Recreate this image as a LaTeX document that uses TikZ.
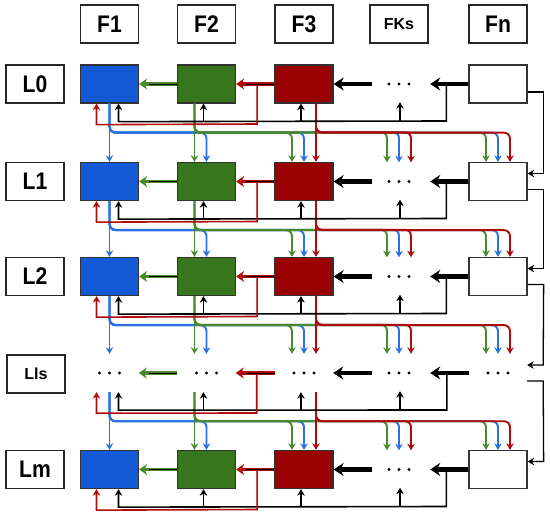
\documentclass[tikz,border=0pt]{standalone}
\usepackage{fontspec}
\setmainfont{Liberation Sans}
\newfontfamily\lblfont[FakeStretch=0.88]{Liberation Sans}
\usetikzlibrary{arrows.meta,calc}
\definecolor{bfill}{HTML}{1558D6}
\definecolor{gfill}{HTML}{38761D}
\definecolor{rfill}{HTML}{990000}
\definecolor{bline}{HTML}{2A72E4}
\definecolor{gline}{HTML}{4A8A2C}
\definecolor{rline}{HTML}{B00A0A}
\definecolor{edgec}{HTML}{333333}
\tikzset{
  cellbox/.style={minimum width=58pt,minimum height=38pt,inner sep=0pt,draw=edgec,line width=1.3pt},
  dotcell/.style={minimum width=58pt,minimum height=38pt,inner sep=0pt},
  lbl/.style={minimum width=58pt,minimum height=38pt,inner sep=0pt,draw=black!85,line width=1.3pt,fill=white,font=\lblfont\bfseries\fontsize{24}{24}\selectfont},
  lblsmall/.style={lbl,font=\bfseries\fontsize{16}{16}\selectfont},
  smallhead/.style={-{Stealth[length=6.5pt,width=7.5pt]}},
  dropb/.style={draw=bline,line width=1.9pt,rounded corners=6pt,smallhead},
  dropg/.style={draw=gline,line width=1.9pt,rounded corners=6pt,smallhead},
  dropr/.style={draw=rline,line width=1.9pt,rounded corners=6pt,smallhead},
  feedk/.style={draw=black,line width=1.6pt,smallhead},
  feedr/.style={draw=rline,line width=1.6pt,smallhead},
  thickk/.style={draw=black,line width=4.2pt,-{Stealth[length=10pt,width=13pt]}},
  colarrowg/.style={draw=gline,line width=3.6pt,-{Stealth[length=8pt,width=11pt]}},
  colarrowr/.style={draw=rline,line width=3.6pt,-{Stealth[length=8pt,width=11pt]}},
  innerk/.style={draw=black,line width=1pt},
  sideline/.style={draw=black,line width=1.3pt,smallhead}
}
\begin{document}
\begin{tikzpicture}[x=1pt,y=-1pt]
\useasboundingbox (0,0) rectangle (550,514);
% headers
\node[lbl] (h0) at (109.5,24) {F1};
\node[lbl] (h1) at (206.5,24) {F2};
\node[lbl] (h2) at (304,24) {F3};
\node[lblsmall] (h3) at (399,24) {FKs};
\node[lbl] (h4) at (498,24) {Fn};
% row labels
\node[lbl] (l0) at (35,84) {L0};
\node[lbl] (l1) at (35,181.5) {L1};
\node[lbl] (l2) at (35,276.5) {L2};
\node[lblsmall] (l3) at (36,374) {Lls};
\node[lbl] (l4) at (35,469.5) {Lm};
% cells
\foreach \r/\y in {0/84,1/181.5,2/276.5,3/373,4/469.5} {
  \foreach \k/\x/\f in {0/109.5/bfill,1/206.5/gfill,2/304/rfill,3/399/white,4/498/white} {
    \ifnum\r=3
      \node[dotcell] (n\r\k) at (\x,\y) {};
      \foreach \d in {-10,0,10} \fill ($(n\r\k.center)+(\d,0)$) circle (1.6pt);
    \else
      \ifnum\k=3
        \node[dotcell] (n\r\k) at (\x,\y) {};
        \foreach \d in {-10,0,10} \fill ($(n\r\k.center)+(\d,0)$) circle (1.6pt);
      \else
        \node[cellbox,fill=\f] (n\r\k) at (\x,\y) {};
      \fi
    \fi
  }
}
% drops between rows
\foreach \r/\rn in {0/1,1/2,2/3,3/4} {
  \draw[dropb] (n\r0.south) -- (n\rn0.north);
  \foreach \k in {1,2,3,4} {
    \draw[dropb] (n\r0.south) |- ($(n\r\k.south)+(0,29)$) -- (n\rn\k.north);
  }
  \draw[dropg] ($(n\r1.south)+(-12,0)$) -- ($(n\rn1.north)+(-12,0)$);
  \foreach \k in {2,3,4} {
    \draw[dropg] ($(n\r1.south)+(-12,0)$) |- ($(n\r\k.south)+(-12,29)$) -- ($(n\rn\k.north)+(-12,0)$);
  }
  \draw[dropr] ($(n\r2.south)+(12,0)$) -- ($(n\rn2.north)+(12,0)$);
  \foreach \k in {3,4} {
    \draw[dropr] ($(n\r2.south)+(12,0)$) |- ($(n\r\k.south)+(12,29)$) -- ($(n\rn\k.north)+(12,0)$);
  }
  % right side link
  \draw[sideline] ($(n\r4.east)+(0,8)$) -- ($(n\r4.east)+(16,8)$) -- ($(n\rn4.east)+(16,-8)$) -- ($(n\rn4.east)+(0,-8)$);
}
% per-row horizontal connectors and feeds
\foreach \r in {0,1,2,3,4} {
  % black feed
  \draw[feedk] ($(n\r4.west)+(-22,0)$) -- ($(n\r4.west)+(-22,37)$) -- ($(n\r0.south)+(9,18)$) -- ($(n\r0.south)+(9,0)$);
  \draw[feedk] ($(n\r1.south)+(-3,18)$) -- ($(n\r1.south)+(-3,0)$);
  \draw[feedk] ($(n\r2.south)+(-3,18)$) -- ($(n\r2.south)+(-3,0)$);
  \draw[feedk] ($(n\r3.south)+(1,18)$) -- ($(n\r3.south)+(1,-1)$);
  % red feed
  \draw[feedr] ($(n\r1.east)+(21,0)$) -- ($(n\r1.east)+(21,40)$) -- ($(n\r0.south)+(-13,21)$) -- ($(n\r0.south)+(-13,0)$);
  % F2 -> F1
  \draw[colarrowg] (n\r1.west) -- (n\r0.east);
  \draw[innerk] (n\r1.west) -- ($(n\r0.east)+(10,0)$);
  % F3 -> F2
  \draw[colarrowr] (n\r2.west) -- (n\r1.east);
  \draw[innerk] (n\r2.west) -- ($(n\r1.east)+(10,0)$);
  % FKs -> F3
  \draw[thickk] ($(n\r3.west)+(2,0)$) -- (n\r2.east);
  % Fn -> FKs
  \draw[thickk] (n\r4.west) -- ($(n\r3.east)+(2,0)$);
}
\end{tikzpicture}
\end{document}
